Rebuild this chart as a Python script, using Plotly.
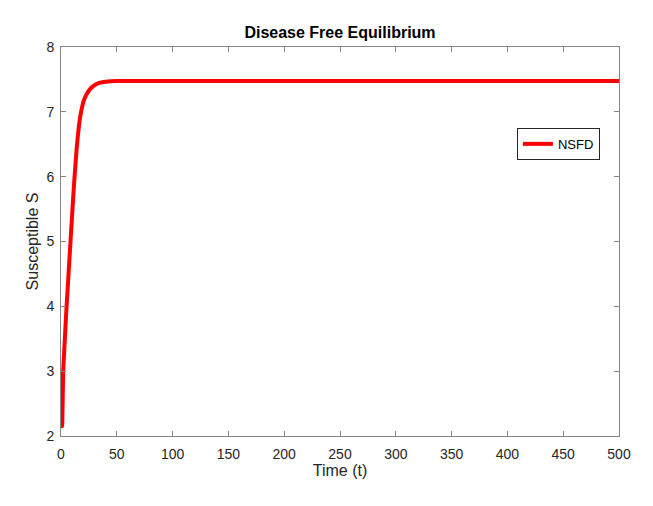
import plotly.graph_objects as go

# Time (t) and susceptible population S
t_vals = [0, 1, 2, 3, 4, 5, 6, 7, 8, 9, 10, 11, 12, 13, 14, 15, 16, 17, 18,
          19, 20, 21, 22, 24, 26, 28, 30, 32, 35, 40, 45, 50, 60, 80, 100,
          150, 200, 250, 300, 350, 400, 450, 500]
s_vals = [3.0, 2.15, 3.0, 3.35, 3.68, 4.0, 4.28, 4.57, 4.85, 5.14, 5.42,
          5.70, 5.96, 6.20, 6.42, 6.61, 6.77, 6.90, 7.00, 7.08, 7.15, 7.20,
          7.24, 7.30, 7.35, 7.385, 7.41, 7.43, 7.45, 7.465, 7.472, 7.475,
          7.476, 7.476, 7.476, 7.476, 7.476, 7.476, 7.476, 7.476, 7.476,
          7.476, 7.476]

x_ticks = [0, 50, 100, 150, 200, 250, 300, 350, 400, 450, 500]
y_ticks = [2, 3, 4, 5, 6, 7, 8]

FONT = "Arial, Liberation Sans, sans-serif"

fig = go.Figure()
fig.add_trace(go.Scatter(x=t_vals, y=s_vals, mode="lines", name="NSFD",
                         line=dict(color="#ff0000", width=4, shape="spline", smoothing=0.6)))

axis_common = dict(showgrid=False, zeroline=False, showline=True, mirror="ticks",
                   linecolor="#868686", linewidth=1, ticks="inside", ticklen=5,
                   tickcolor="#868686",
                   tickfont=dict(family=FONT, size=14, color="#262626"))

fig.update_layout(
    width=653, height=506,
    margin=dict(l=61, r=34, t=47, b=70),
    paper_bgcolor="white", plot_bgcolor="white",
    title=dict(text="<b>Disease Free Equilibrium</b>", x=0.5, xref="paper",
               y=1 - 32 / 506, yref="container", yanchor="middle", xanchor="center",
               font=dict(family=FONT, size=16, color="black")),
    xaxis=dict(range=[0, 500], tickvals=x_ticks, ticklabelstandoff=5,
               title=dict(text="Time (t)", standoff=2,
                          font=dict(family=FONT, size=16, color="#262626")),
               **axis_common),
    yaxis=dict(range=[2, 8], tickvals=y_ticks, ticklabelstandoff=3,
               title=dict(text="Susceptible S", standoff=3,
                          font=dict(family=FONT, size=16, color="#262626")),
               **axis_common),
    legend=dict(x=0.817, y=0.792, xanchor="left", yanchor="top",
                bordercolor="#262626", borderwidth=1, bgcolor="white",
                font=dict(family=FONT, size=13, color="black"),
                tracegroupgap=0, itemwidth=30),
    showlegend=True,
)

fig.write_html("out.html")
